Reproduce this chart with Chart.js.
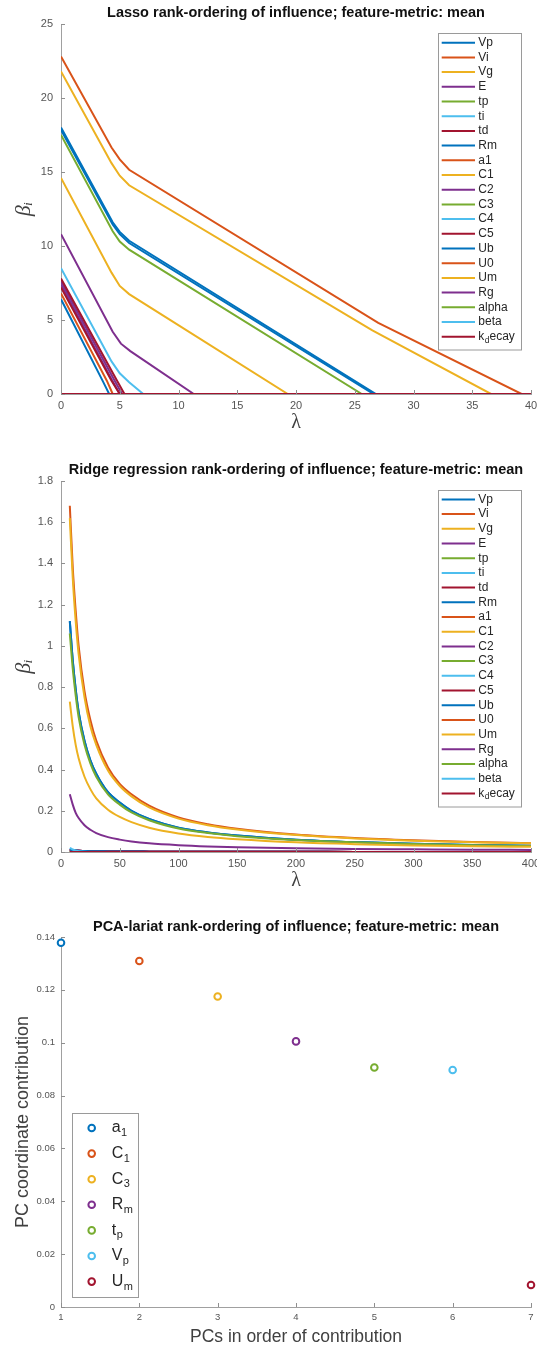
<!DOCTYPE html>
<html>
<head>
<meta charset="utf-8">
<script src="https://cdn.jsdelivr.net/npm/chart.js@4.4.1/dist/chart.umd.min.js"></script>
<style>
  body { margin: 0; background: #fff; }
  #wrap { position: relative; width: 537px; height: 1349px; }
  canvas { position: absolute; left: 0; }
</style>
</head>
<body>
<div id="wrap">
  <canvas id="lassoChart" width="537" height="440" style="top:0px"></canvas>
  <canvas id="ridgeChart" width="537" height="455" style="top:440px"></canvas>
  <canvas id="pcaChart" width="537" height="454" style="top:895px"></canvas>
</div>
<script>
// feature names, in the order they were plotted
const featureNames = ["Vp", "Vi", "Vg", "E", "tp", "ti", "td", "Rm", "a1", "C1", "C2",
  "C3", "C4", "C5", "Ub", "U0", "Um", "Rg", "alpha", "beta", "kdecay"];
// legend text pieces: [main, subscript, rest]
const featureLabels = [["Vp"], ["Vi"], ["Vg"], ["E"], ["tp"], ["ti"], ["td"], ["Rm"], ["a1"], ["C1"], ["C2"],
  ["C3"], ["C4"], ["C5"], ["Ub"], ["U0"], ["Um"], ["Rg"], ["alpha"], ["beta"], ["k", "d", "ecay"]];

// lasso paths, [lambda, beta] knots
const lassoVp = [[0, 17.85], [4.4, 11.45], [5.0, 10.8], [5.8, 10.2], [26.6, 0], [40, 0]];
const lassoVi = [[0, 6.8], [3.9, 0.9], [4.4, 0], [40, 0]];
const lassoE = [[0, 7.6], [4.5, 1.0], [5.2, 0], [40, 0]];
const lassoTd = [[0, 7.8], [4.7, 1.0], [5.4, 0], [40, 0]];
const lassoRm = [[0, 18.0], [4.4, 11.6], [5.0, 10.95], [5.8, 10.35], [26.8, 0], [40, 0]];
const lassoA1 = [[0, 22.8], [4.3, 16.65], [5.0, 15.85], [5.8, 15.15], [27, 4.8], [39.2, 0], [40, 0]];
const lassoC1 = [[0, 21.8], [4.3, 15.6], [5.0, 14.75], [5.8, 14.1], [26.5, 4.3], [36.6, 0], [40, 0]];
const lassoC2 = [[0, 7.4], [4.3, 1.0], [5.0, 0], [40, 0]];
const lassoC3 = [[0, 17.5], [4.4, 11.0], [5.0, 10.3], [5.8, 9.75], [25.6, 0], [40, 0]];
const lassoC5 = [[0, 7.2], [4.3, 0.9], [5.0, 0], [40, 0]];
const lassoUb = [[0, 6.4], [3.6, 0.8], [4.1, 0], [40, 0]];
const lassoUm = [[0, 14.6], [4.3, 8.2], [5.0, 7.3], [5.8, 6.75], [19.3, 0], [40, 0]];
const lassoRg = [[0, 10.8], [4.4, 4.2], [5.1, 3.4], [5.9, 2.9], [11.3, 0], [40, 0]];
const lassoBeta = [[0, 8.5], [4.3, 2.2], [5.0, 1.4], [5.8, 0.8], [7.0, 0], [40, 0]];
const lassoZero = [[0, 0], [40, 0]];
const lassoSeries = [lassoVp, lassoVi, lassoZero, lassoE, lassoZero, lassoZero, lassoTd, lassoRm,
  lassoA1, lassoC1, lassoC2, lassoC3, lassoZero, lassoC5, lassoUb, lassoZero, lassoUm, lassoRg,
  lassoZero, lassoBeta, lassoZero];

// ridge paths, sampled at these lambdas
const ridgeLambda = [7.5, 10, 12.5, 15, 20, 25, 30, 40, 50, 60, 75, 100, 125, 150, 200, 250, 300, 350, 400];
const ridgeA1 = [1.68, 1.38, 1.17, 1.00, 0.78, 0.64, 0.54, 0.41, 0.33, 0.28, 0.225, 0.168, 0.135, 0.113, 0.085, 0.068, 0.057, 0.049, 0.043];
const ridgeC1 = [1.62, 1.33, 1.12, 0.96, 0.75, 0.61, 0.52, 0.395, 0.32, 0.27, 0.216, 0.162, 0.13, 0.109, 0.082, 0.066, 0.055, 0.047, 0.042];
const ridgeRm = [1.12, 0.93, 0.79, 0.68, 0.54, 0.445, 0.38, 0.29, 0.24, 0.2, 0.16, 0.118, 0.095, 0.08, 0.06, 0.048, 0.04, 0.034, 0.03];
const ridgeC3 = [1.06, 0.89, 0.76, 0.655, 0.52, 0.43, 0.365, 0.28, 0.23, 0.192, 0.154, 0.114, 0.092, 0.077, 0.058, 0.047, 0.039, 0.033, 0.029];
const ridgeUm = [0.73, 0.61, 0.52, 0.455, 0.365, 0.305, 0.26, 0.205, 0.17, 0.145, 0.118, 0.09, 0.073, 0.062, 0.047, 0.038, 0.032, 0.028, 0.025];
const ridgeRg = [0.28, 0.23, 0.19, 0.165, 0.13, 0.108, 0.092, 0.072, 0.06, 0.051, 0.042, 0.033, 0.027, 0.023, 0.018, 0.015, 0.013, 0.011, 0.01];
const ridgeBeta = [0.02, 0.012, 0.007, 0.004, 0.001, 0, 0, 0, 0, 0, 0, 0, 0, 0, 0, 0, 0, 0, 0];
const ridgeTiny = [0.012, 0.009, 0.007, 0.006, 0.005, 0.004, 0.0035, 0.003, 0.0025, 0.002, 0.0018, 0.0014, 0.0012, 0.001, 0.0008, 0.0006, 0.0005, 0.0004, 0.0004];
const ridgeZero = [0, 0, 0, 0, 0, 0, 0, 0, 0, 0, 0, 0, 0, 0, 0, 0, 0, 0, 0];
const ridgeSeries = [ridgeRm, ridgeTiny, ridgeZero, ridgeTiny, ridgeZero, ridgeZero, ridgeTiny, ridgeRm,
  ridgeA1, ridgeC1, ridgeTiny, ridgeC3, ridgeZero, ridgeTiny, ridgeTiny, ridgeZero, ridgeUm, ridgeRg,
  ridgeZero, ridgeBeta, ridgeZero];

// PCA-lariat ranking
const pcaRank = [1, 2, 3, 4, 5, 6, 7];
const pcaContribution = [0.1378, 0.1309, 0.1175, 0.1005, 0.0906, 0.0897, 0.0083];
const pcaLabels = [["a", "1"], ["C", "1"], ["C", "3"], ["R", "m"], ["t", "p"], ["V", "p"], ["U", "m"]];

const matlabColors = ["#0072BD", "#D95319", "#EDB120", "#7E2F8E", "#77AC30", "#4DBEEE", "#A2142F"];
const FONT = '"Liberation Sans", Arial, Helvetica, sans-serif';

// MATLAB style ticks, pointing into the axes
const inwardTicks = {
  id: "inwardTicks",
  afterDraw(chart) {
    const { ctx, chartArea, scales } = chart;
    ctx.save();
    ctx.strokeStyle = "#8f8f8f";
    ctx.lineWidth = 1;
    ctx.beginPath();
    scales.x.ticks.forEach((t, i) => {
      const px = Math.round(scales.x.getPixelForTick(i)) + 0.5;
      ctx.moveTo(px, chartArea.bottom);
      ctx.lineTo(px, chartArea.bottom - 4);
    });
    scales.y.ticks.forEach((t, i) => {
      const py = Math.round(scales.y.getPixelForTick(i)) + 0.5;
      ctx.moveTo(chartArea.left, py);
      ctx.lineTo(chartArea.left + 4, py);
    });
    ctx.stroke();
    ctx.restore();
  }
};

// boxed legend drawn inside the axes
const boxLegend = {
  id: "boxLegend",
  afterDraw(chart, args, opts) {
    if (!opts.items) return;
    const { ctx, chartArea } = chart;
    const bx = chartArea.left + opts.left;
    const by = chartArea.top + opts.top;
    ctx.save();
    ctx.fillStyle = "#fff";
    ctx.fillRect(bx, by, opts.width, opts.height);
    ctx.strokeStyle = "#9a9a9a";
    ctx.lineWidth = 1;
    ctx.strokeRect(Math.round(bx) + 0.5, Math.round(by) + 0.5, opts.width, opts.height);
    opts.items.forEach((it, i) => {
      const cy = by + opts.firstRow + i * opts.rowHeight;
      ctx.strokeStyle = it.color;
      ctx.lineWidth = 2;
      ctx.beginPath();
      if (opts.kind === "line") {
        ctx.moveTo(bx + opts.symX0, cy);
        ctx.lineTo(bx + opts.symX1, cy);
        ctx.stroke();
      } else {
        ctx.fillStyle = "#fff";
        ctx.arc(bx + opts.symX0, cy, 3.3, 0, Math.PI * 2);
        ctx.fill();
        ctx.stroke();
      }
      ctx.fillStyle = "#262626";
      ctx.textBaseline = "middle";
      ctx.textAlign = "left";
      const mainFont = opts.fontSize + "px " + FONT;
      const subFont = opts.subSize + "px " + FONT;
      let tx = bx + opts.textX;
      const [main, sub, rest] = it.parts;
      ctx.font = mainFont;
      ctx.fillText(main, tx, cy);
      tx += ctx.measureText(main).width;
      if (sub) {
        ctx.font = subFont;
        ctx.fillText(sub, tx + 0.5, cy + opts.subShift);
        tx += ctx.measureText(sub).width + 0.5;
      }
      if (rest) {
        ctx.font = mainFont;
        ctx.fillText(rest, tx, cy);
      }
    });
    ctx.restore();
  }
};

function axisOptions(cfg) {
  return {
    type: "linear",
    min: cfg.min,
    max: cfg.max,
    afterFit(scale) {
      if (cfg.width) scale.width = cfg.width;
      if (cfg.height) scale.height = cfg.height;
      scale.paddingLeft = 0;
      scale.paddingRight = 0;
      scale.paddingTop = 0;
      scale.paddingBottom = 0;
    },
    grid: { display: false, drawTicks: false },
    border: { display: true, color: "#a0a0a0", width: 1 },
    ticks: {
      stepSize: cfg.step,
      color: "#555",
      padding: cfg.tickPad,
      maxRotation: 0,
      autoSkip: false,
      font: { family: FONT, size: cfg.tickSize },
      callback: (v) => String(Math.round(v * 1e6) / 1e6)
    },
    title: {
      display: true,
      text: cfg.title,
      color: "#404040",
      padding: cfg.titlePad,
      font: cfg.titleFont
    }
  };
}

function chartTitle(text, top, bottom) {
  return {
    display: true,
    text: text,
    color: "#111",
    fullSize: false,
    padding: { top: top, bottom: bottom },
    font: { family: FONT, size: 14.5, weight: "bold" }
  };
}

const lineLegendItems = featureNames.map((n, i) => ({
  parts: featureLabels[i],
  color: matlabColors[i % 7]
}));

function lineLegend() {
  return {
    kind: "line", items: lineLegendItems,
    left: 376.7, top: 9.3, width: 83, height: 316.5,
    firstRow: 9.4, rowHeight: 14.7, symX0: 4, symX1: 37.3, textX: 40.6,
    fontSize: 12, subSize: 8.5, subShift: 3.5
  };
}

// lasso chart
new Chart(document.getElementById("lassoChart"), {
  type: "line",
  data: {
    datasets: featureNames.map((name, i) => ({
      label: name,
      data: lassoSeries[i],
      borderColor: matlabColors[i % 7],
      borderWidth: 2,
      pointRadius: 0,
      fill: false,
      tension: 0,
      order: featureNames.length - i
    }))
  },
  options: {
    responsive: false,
    animation: false,
    layout: { padding: { left: 0, right: 6, top: 0, bottom: 0 } },
    scales: {
      x: axisOptions({ min: 0, max: 40, step: 5, height: 46, tickPad: 5, tickSize: 11,
        title: "λ", titlePad: { top: 0, bottom: 5 }, titleFont: { family: '"Liberation Serif", serif', size: 20 } }),
      y: axisOptions({ min: 0, max: 25, step: 5, width: 61, tickPad: 8, tickSize: 11,
        title: "βᵢ", titlePad: { top: 11, bottom: 0 }, titleFont: { family: '"Liberation Serif", serif', size: 22, style: "italic" } })
    },
    plugins: {
      legend: { display: false },
      tooltip: { enabled: false },
      title: chartTitle("Lasso rank-ordering of influence; feature-metric: mean", 4.3, 2.3),
      boxLegend: lineLegend()
    }
  },
  plugins: [inwardTicks, boxLegend]
});

// ridge chart
new Chart(document.getElementById("ridgeChart"), {
  type: "line",
  data: {
    datasets: featureNames.map((name, i) => ({
      label: name,
      data: ridgeLambda.map((l, k) => ({ x: l, y: ridgeSeries[i][k] })),
      borderColor: matlabColors[i % 7],
      borderWidth: 2,
      pointRadius: 0,
      fill: false,
      cubicInterpolationMode: "monotone",
      order: featureNames.length - i
    }))
  },
  options: {
    responsive: false,
    animation: false,
    layout: { padding: { left: 0, right: 6, top: 0, bottom: 0 } },
    scales: {
      x: axisOptions({ min: 0, max: 400, step: 50, height: 43, tickPad: 5, tickSize: 11,
        title: "λ", titlePad: { top: 0, bottom: 2 }, titleFont: { family: '"Liberation Serif", serif', size: 20 } }),
      y: axisOptions({ min: 0, max: 1.8, step: 0.2, width: 61, tickPad: 8, tickSize: 11,
        title: "βᵢ", titlePad: { top: 11, bottom: 0 }, titleFont: { family: '"Liberation Serif", serif', size: 22, style: "italic" } })
    },
    plugins: {
      legend: { display: false },
      tooltip: { enabled: false },
      title: chartTitle("Ridge regression rank-ordering of influence; feature-metric: mean", 21.3, 2.3),
      boxLegend: Object.assign(lineLegend(), { top: 9 })
    }
  },
  plugins: [inwardTicks, boxLegend]
});

// PCA-lariat chart
new Chart(document.getElementById("pcaChart"), {
  type: "scatter",
  data: {
    datasets: pcaRank.map((r, i) => ({
      label: pcaLabels[i].join(""),
      data: [{ x: r, y: pcaContribution[i] }],
      borderColor: matlabColors[i],
      backgroundColor: "#fff",
      pointRadius: 3.3,
      pointBorderWidth: 2,
      clip: false
    }))
  },
  options: {
    responsive: false,
    animation: false,
    layout: { padding: { left: 0, right: 6, top: 0, bottom: 0 } },
    scales: {
      x: axisOptions({ min: 1, max: 7, step: 1, height: 42, tickPad: 5, tickSize: 9.5,
        title: "PCs in order of contribution", titlePad: { top: 0, bottom: 1.5 }, titleFont: { family: FONT, size: 17.5 } }),
      y: axisOptions({ min: 0, max: 0.14, step: 0.02, width: 61, tickPad: 6, tickSize: 9.5,
        title: "PC coordinate contribution", titlePad: { top: 12.2, bottom: 0 }, titleFont: { family: FONT, size: 18 } })
    },
    plugins: {
      legend: { display: false },
      tooltip: { enabled: false },
      title: chartTitle("PCA-lariat rank-ordering of influence; feature-metric: mean", 23.3, 1.3),
      boxLegend: {
        kind: "marker",
        items: pcaLabels.map((p, i) => ({ parts: p, color: matlabColors[i] })),
        left: 11, top: 176, width: 66, height: 184,
        firstRow: 15, rowHeight: 25.6, symX0: 19.7, textX: 39.7,
        fontSize: 16, subSize: 11, subShift: 5
      }
    }
  },
  plugins: [inwardTicks, boxLegend]
});
</script>
</body>
</html>
